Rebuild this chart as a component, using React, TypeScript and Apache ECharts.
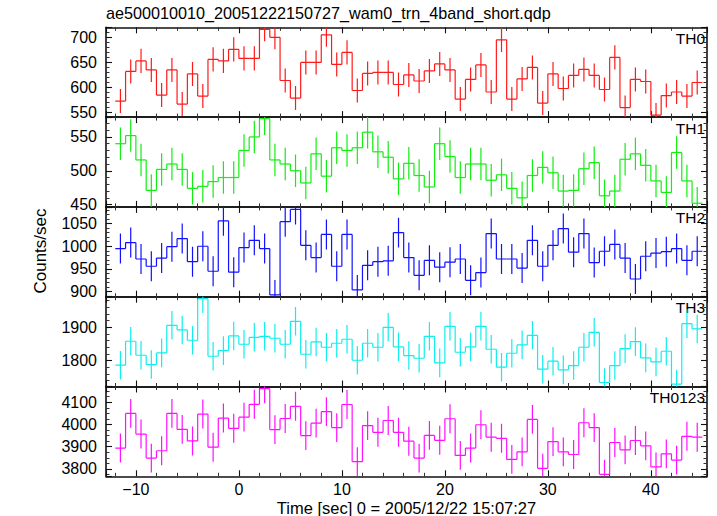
import React, { useEffect, useRef } from 'react';
import * as echarts from 'echarts';

const TITLE = 'ae500010010_20051222150727_wam0_trn_4band_short.qdp';
const X_NAME = 'Time [sec] 0 = 2005/12/22 15:07:27';
const Y_NAME = 'Counts/sec';
const PANEL_NAMES = ['TH0', 'TH1', 'TH2', 'TH3', 'TH0123'];

// bin centres in seconds (1 s bins)
const binCenters = [
  -11.5, -10.5, -9.5, -8.5, -7.5, -6.5, -5.5, -4.5, -3.5, -2.5, -1.5, -0.5,
  0.5, 1.5, 2.5, 3.5, 4.5, 5.5, 6.5, 7.5, 8.5, 9.5, 10.5, 11.5, 12.5, 13.5, 14.5, 15.5, 16.5,
  17.5, 18.5, 19.5, 20.5, 21.5, 22.5, 23.5, 24.5, 25.5, 26.5, 27.5, 28.5, 29.5, 30.5, 31.5,
  32.5, 33.5, 34.5, 35.5, 36.5, 37.5, 38.5, 39.5, 40.5, 41.5, 42.5, 43.5, 44.5,
];

const th0 = [
  573, 632, 653, 635, 585, 635, 567, 627, 583, 656, 653, 676,
  658, 658, 716, 700, 614, 579, 650, 650, 705, 646, 670, 594, 628, 630, 630, 606, 625,
  613, 633, 647, 635, 577, 616, 645, 591, 695, 577, 617, 640, 569, 627, 598,
  624, 636, 624, 596, 660, 560, 616, 612, 545, 584, 591, 583, 610,
];
const th1 = [
  540, 552, 516, 471, 502, 510, 502, 474, 477, 484, 490, 490,
  530, 550, 577, 516, 510, 500, 482, 525, 492, 534, 530, 534, 557, 528, 520, 488, 511,
  493, 476, 540, 521, 490, 510, 510, 486, 494, 474, 460, 493, 505, 497,
  470, 471, 503, 512, 463, 470, 517, 525, 508, 485, 468, 527, 485, 452,
];
const th2 = [
  995, 1008, 972, 956, 974, 999, 1017, 966, 1000, 945, 1056, 943,
  997, 1013, 995, 893, 1054, 1081, 1002, 975, 1026, 956, 1026, 904, 958, 966, 968, 1030, 975,
  936, 969, 954, 965, 972, 925, 942, 1028, 972, 972, 952, 1013, 956, 1002,
  1039, 987, 1028, 964, 989, 1004, 974, 928, 978, 985, 988, 995, 969, 989,
];
const th3 = [
  1786, 1858, 1816, 1788, 1823, 1906, 1892, 1861, 1986, 1813, 1830, 1874,
  1849, 1870, 1873, 1867, 1849, 1918, 1819, 1856, 1840, 1852, 1864, 1801, 1852, 1840, 1900, 1841, 1815,
  1807, 1873, 1793, 1903, 1825, 1841, 1903, 1834, 1780, 1822, 1847, 1876, 1774, 1798,
  1772, 1785, 1840, 1885, 1734, 1785, 1836, 1857, 1808, 1796, 1828, 1729, 1911, 1895,
];
const th0123 = [
  3894, 4050, 3957, 3849, 3882, 4050, 3978, 3926, 4047, 3898, 4029, 3983,
  4033, 4091, 4161, 3977, 4027, 4082, 3950, 4006, 4058, 3986, 4090, 3833, 3995, 3965, 4018, 3965, 3925,
  3849, 3951, 3929, 4026, 3861, 3894, 3999, 3943, 3938, 3843, 3877, 4023, 3803, 3923,
  3877, 3865, 4008, 3986, 3776, 3919, 3886, 3928, 3904, 3809, 3868, 3840, 3947, 3943,
];

// 1-sigma error per panel (counts/sec)
const errors = [24, 24, 33, 43, 65];

// axis ranges
const xRange = [-12.9, 45.45];
const yMins = [541, 446.6, 889, 1722, 3767];
const yMaxs = [720, 579.3, 1086.6, 1992, 4171];
const yIntervals = [50, 50, 50, 100, 100];

const FONT = '"Liberation Sans", Arial, Helvetica, sans-serif';
const COLORS = ['#ff1a1a', '#11ee11', '#1111ff', '#11eeee', '#ff11ff'];
const Y_MINOR = [5, 5, 5, 5, 4];

const GRID_LEFT = 106;
const GRID_RIGHT_EDGE = 707;
const GRID_TOP0 = 27.3;
const GRID_H = 89.8;

const allSeries = [th0, th1, th2, th3, th0123];

function fmt(v: number) {
  return String(v).replace('-', '\u2212');
}

export default function App() {
  const ref = useRef<HTMLDivElement>(null);
  useEffect(() => {
    if (!ref.current) return;
    const chart = echarts.init(ref.current, undefined, { renderer: 'svg' });

    const grids: any[] = [];
    const xAxes: any[] = [];
    const yAxes: any[] = [];
    const series: any[] = [];
    const graphics: any[] = [];

    const axisLine = { show: true, onZero: false, lineStyle: { color: '#111', width: 1.6 } };
    const tick = { show: true, inside: true, length: 6, lineStyle: { color: '#111', width: 1.1 } };
    const minorStyle = { color: '#333', width: 1 };

    for (let i = 0; i < 5; i++) {
      const top = GRID_TOP0 + i * GRID_H;
      grids.push({ left: GRID_LEFT, width: GRID_RIGHT_EDGE - GRID_LEFT, top, height: GRID_H });
      const xBase = {
        type: 'value', gridIndex: i, min: xRange[0], max: xRange[1],
        minInterval: 10, maxInterval: 10,
        axisLine, axisTick: tick,
        minorTick: { show: true, splitNumber: 5, length: 3.5, lineStyle: minorStyle },
        splitLine: { show: false },
      };
      xAxes.push({
        ...xBase, position: 'bottom',
        axisLabel: {
          show: i === 4, margin: 5, color: '#000', fontSize: 16, fontFamily: FONT,
          showMinLabel: false, showMaxLabel: false, formatter: fmt,
        },
      });
      xAxes.push({ ...xBase, position: 'top', axisLabel: { show: false } });

      const yBase = {
        type: 'value', gridIndex: i, min: yMins[i], max: yMaxs[i],
        minInterval: yIntervals[i], maxInterval: yIntervals[i],
        axisLine, axisTick: tick,
        minorTick: { show: true, splitNumber: Y_MINOR[i], length: 3.5, lineStyle: minorStyle },
        splitLine: { show: false },
      };
      yAxes.push({
        ...yBase, position: 'left',
        axisLabel: {
          show: true, margin: 9, color: '#000', fontSize: 16, fontFamily: FONT,
          showMinLabel: false, showMaxLabel: false, formatter: fmt,
        },
      });
      yAxes.push({ ...yBase, position: 'right', axisLabel: { show: false } });

      const vals = allSeries[i];
      const err = errors[i];
      const color = COLORS[i];
      series.push({
        type: 'custom',
        xAxisIndex: i * 2,
        yAxisIndex: i * 2,
        clip: true,
        encode: { x: 0, y: 1 },
        data: binCenters.map((c, k) => [c, vals[k], k > 0 ? vals[k - 1] : vals[k], err]),
        renderItem: (params: any, api: any) => {
          const x = api.value(0);
          const y = api.value(1);
          const prev = api.value(2);
          const e = api.value(3);
          const pL = api.coord([x - 0.5, y]);
          const pR = api.coord([x + 0.5, y]);
          const pT = api.coord([x, y + e]);
          const pB = api.coord([x, y - e]);
          const pP = api.coord([x - 0.5, prev]);
          const style = { stroke: color, lineWidth: 1.2, fill: null };
          return {
            type: 'group',
            children: [
              { type: 'line', shape: { x1: pL[0], y1: pL[1], x2: pR[0], y2: pR[1] }, style },
              { type: 'line', shape: { x1: pT[0], y1: pT[1], x2: pB[0], y2: pB[1] }, style },
              { type: 'line', shape: { x1: pP[0], y1: pP[1], x2: pL[0], y2: pL[1] }, style },
            ],
          };
        },
      });

      graphics.push({
        type: 'text', right: 717 - 705, top: top + 3,
        style: { text: PANEL_NAMES[i], fill: '#000', font: `15.5px ${FONT}` },
      });
    }

    graphics.push({
      type: 'text', x: 40, y: 251, rotation: Math.PI / 2,
      style: { text: Y_NAME, fill: '#000', font: `17px ${FONT}`, align: 'center', verticalAlign: 'middle' },
    });
    graphics.push({
      type: 'text', x: (GRID_LEFT + GRID_RIGHT_EDGE) / 2, y: 508,
      style: { text: X_NAME, fill: '#000', font: `16.5px ${FONT}`, align: 'center', verticalAlign: 'middle' },
    });

    chart.setOption({
      animation: false,
      backgroundColor: '#fff',
      title: {
        text: TITLE, left: GRID_LEFT, top: 5, padding: 0,
        textStyle: { fontSize: 16.2, fontWeight: 'normal', color: '#000', fontFamily: FONT },
      },
      grid: grids,
      xAxis: xAxes,
      yAxis: yAxes,
      series,
      graphic: graphics,
    });
    return () => chart.dispose();
  }, []);
  return <div ref={ref} style={{ position: 'fixed', left: 0, top: 0, width: 717, height: 516 }} />;
}
